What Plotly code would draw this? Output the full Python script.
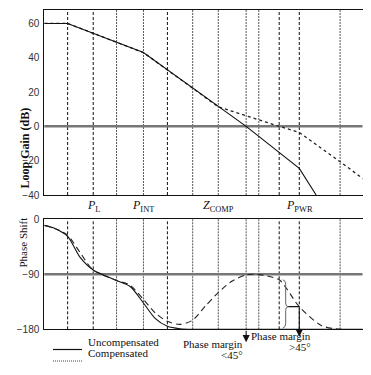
import plotly.graph_objects as go

# The page keeps the browser's default 8px body margin; sizing the figure 16px smaller
# than the window makes the page exactly the window size.
OFF = 8
W, H = 371 - 2 * OFF, 375 - 2 * OFF

# ---- data ----
marker_x = [7.2, 15.1, 22.3, 30.6, 38.0, 45.8, 53.7, 62.3, 66.2, 72.5, 78.7, 91.3]
marker_kind = ['dash', 'dash', 'dot', 'dot', 'dash', 'dot', 'dot', 'dot', 'dot', 'dash', 'dash', 'dot']

pole_labels = ['<i>P</i><sub>L</sub>', '<i>P</i><sub>INT</sub>', '<i>Z</i><sub>COMP</sub>', '<i>P</i><sub>PWR</sub>']
pole_x = [15.1, 30.6, 53.7, 78.7]

gain_unc_x = [0, 7.2, 30.6, 53.7, 62.3, 78.7, 83.9]
gain_unc_y = [60, 60, 43, 11.4, 0, -24.5, -40]
gain_comp_x = [0, 7.2, 30.6, 53.7, 72.5, 78.7, 91.3, 98.5]
gain_comp_y = [60, 60, 43, 11.4, 0, -3.5, -20.6, -30.7]

phase_unc_x = [0, 3.3, 7.2, 11.0, 15.1, 22.3, 26.5, 30.6, 34.2, 38.0, 41.9, 45.8, 60, 80, 100]
phase_unc_y = [-10, -15, -28, -62, -83, -100, -110, -137, -162, -175, -179, -180, -180, -180, -180]
phase_comp_x = [0, 3.3, 7.2, 11.0, 15.1, 22.3, 26.5, 30.6, 34.2, 38.0, 41.9, 45.8, 49.7, 53.7, 58.0,
                62.3, 66.2, 72.5, 74.6, 78.7, 85.6, 91.3, 100]
phase_comp_y = [-10, -15, -26, -54, -83, -100, -108, -131, -153, -167, -172, -165, -142, -120, -101,
                -91, -90.5, -99, -112, -143, -174, -180, -180]

gain_ticks = [-40, -20, 0, 20, 40, 60]
phase_ticks = [-180, -90, 0]

SERIF = 'Liberation Serif'
SANS = 'Liberation Sans'


def py(p):
    return 1 - (p - OFF) / H


def px(p):
    return (p - OFF) / W


fig = go.Figure()
fig.add_trace(go.Scatter(x=gain_comp_x, y=gain_comp_y, mode='lines', xaxis='x', yaxis='y',
                         line=dict(color='#222', width=1.3, dash='dot'), showlegend=False))
fig.add_trace(go.Scatter(x=gain_unc_x, y=gain_unc_y, mode='lines', xaxis='x', yaxis='y',
                         line=dict(color='#111', width=1.1), showlegend=False))
fig.add_trace(go.Scatter(x=phase_unc_x, y=phase_unc_y, mode='lines', xaxis='x2', yaxis='y2',
                         line=dict(color='#111', width=1.1, shape='spline', smoothing=0.8), showlegend=False))
fig.add_trace(go.Scatter(x=phase_comp_x, y=phase_comp_y, mode='lines', xaxis='x2', yaxis='y2',
                         line=dict(color='#222', width=1.1, dash='6px,4px', shape='spline', smoothing=0.8),
                         showlegend=False))

shapes = []
for xv, k in zip(marker_x, marker_kind):
    col = '#111' if k == 'dash' else '#555'
    dsh = '3px,2px' if k == 'dash' else '2px,1px'
    for xr, yr in (('x', 'y domain'), ('x2', 'y2 domain')):
        shapes.append(dict(type='line', xref=xr, yref=yr, x0=xv, x1=xv, y0=0, y1=1,
                           line=dict(color=col, width=1, dash=dsh), layer='below'))
# reference lines
shapes.append(dict(type='line', xref='x domain', yref='y', x0=0, x1=1, y0=0, y1=0,
                   line=dict(color='#777', width=2.5), layer='below'))
shapes.append(dict(type='line', xref='x2 domain', yref='y2', x0=0, x1=1, y0=-90, y1=-90,
                   line=dict(color='#777', width=2.5), layer='below'))
# brace
shapes.append(dict(type='path', xref='x2', yref='y2',
                   path='M 73.6,-99 Q 74.5,-100 74.5,-106 L 74.5,-137 Q 74.5,-143 75.3,-143 '
                        'Q 74.5,-143 74.5,-149 L 74.5,-171 Q 74.5,-177 73.6,-178',
                   line=dict(color='#666', width=1)))
shapes.append(dict(type='line', xref='x2', yref='y2', x0=75.3, x1=78.7, y0=-143, y1=-143,
                   line=dict(color='#111', width=1.2)))
# legend samples
LEG_Y = [349.5, 361]
shapes.append(dict(type='line', xref='paper', yref='paper', x0=px(53), x1=px(82), y0=py(LEG_Y[0]),
                   y1=py(LEG_Y[0]), line=dict(color='#111', width=1.2)))
shapes.append(dict(type='line', xref='paper', yref='paper', x0=px(53), x1=px(82), y0=py(LEG_Y[1]),
                   y1=py(LEG_Y[1]), line=dict(color='#444', width=1.2, dash='1px,1px')))

ann = []
for lab, xv in zip(pole_labels, pole_x):
    ann.append(dict(text=lab, x=xv, xref='x', y=py(206), yref='paper', showarrow=False,
                    font=dict(family=SERIF, size=12, color='#111'), xanchor='center', yanchor='middle'))
ann.append(dict(text='<b>Loop Gain (dB)</b>', x=px(15), y=py(106), xref='paper', yref='paper',
                textangle=-90, showarrow=False, font=dict(family=SERIF, size=12, color='#111')))
ann.append(dict(text='Phase Shift', x=px(14.5), y=py(270), xref='paper', yref='paper',
                textangle=-90, showarrow=False, font=dict(family=SERIF, size=11, color='#111')))
# arrows
ann.append(dict(x=78.7, y=-192, xref='x2', yref='y2', ax=78.7, ay=-143, axref='x2', ayref='y2',
                text='', showarrow=True, arrowhead=2, arrowsize=1.3, arrowwidth=1.1, arrowcolor='#111'))
ann.append(dict(x=62.3, y=-201, xref='x2', yref='y2', ax=62.3, ay=-180, axref='x2', ayref='y2',
                text='', showarrow=True, arrowhead=2, arrowsize=1.3, arrowwidth=1.1, arrowcolor='#111'))
for txt, cx, cy in (('Phase margin', 245, 352), ('<45°', 245, 363),
                    ('Phase margin', 313, 344), ('>45°', 313, 355)):
    ann.append(dict(text=txt, x=px(cx), y=py(cy), xref='paper', yref='paper',
                    showarrow=False, font=dict(family=SERIF, size=11, color='#111')))
ann.append(dict(text='Uncompensated', x=px(86), y=py(LEG_Y[0]), xref='paper', yref='paper', xanchor='left',
                showarrow=False, font=dict(family=SERIF, size=11, color='#111')))
ann.append(dict(text='Compensated', x=px(86), y=py(LEG_Y[1]), xref='paper', yref='paper', xanchor='left',
                showarrow=False, font=dict(family=SERIF, size=11, color='#111')))

# keep 3.24 px per x unit; the right frame sits at the page edge
x_left, x_right = 44.3, 362.5
xmax = (x_right - x_left) / 3.24
xdom = [px(x_left), px(x_right)]
axis_common = dict(showline=True, linecolor='#111', linewidth=1, mirror=True, showgrid=False,
                   zeroline=False, ticks='', automargin=False)
fig.update_layout(
    width=W, height=H, margin=dict(l=0, r=0, t=0, b=0),
    paper_bgcolor='white', plot_bgcolor='white', showlegend=False,
    xaxis=dict(domain=xdom, range=[0, xmax], anchor='y', showticklabels=False, **axis_common),
    yaxis=dict(domain=[py(195), py(9.7)], range=[-40, 68], tickvals=gain_ticks, anchor='x',
               tickfont=dict(family=SANS, size=10, color='#333'), ticklabelstandoff=2, **axis_common),
    xaxis2=dict(domain=xdom, range=[0, xmax], anchor='y2', showticklabels=False, **axis_common),
    yaxis2=dict(domain=[py(329.3), py(219.3)], range=[-180, 0], tickvals=phase_ticks, anchor='x2',
                tickfont=dict(family=SANS, size=10, color='#333'), ticklabelstandoff=2, **axis_common),
    shapes=shapes, annotations=ann,
)
fig.write_html('out.html', config={'displayModeBar': False})
